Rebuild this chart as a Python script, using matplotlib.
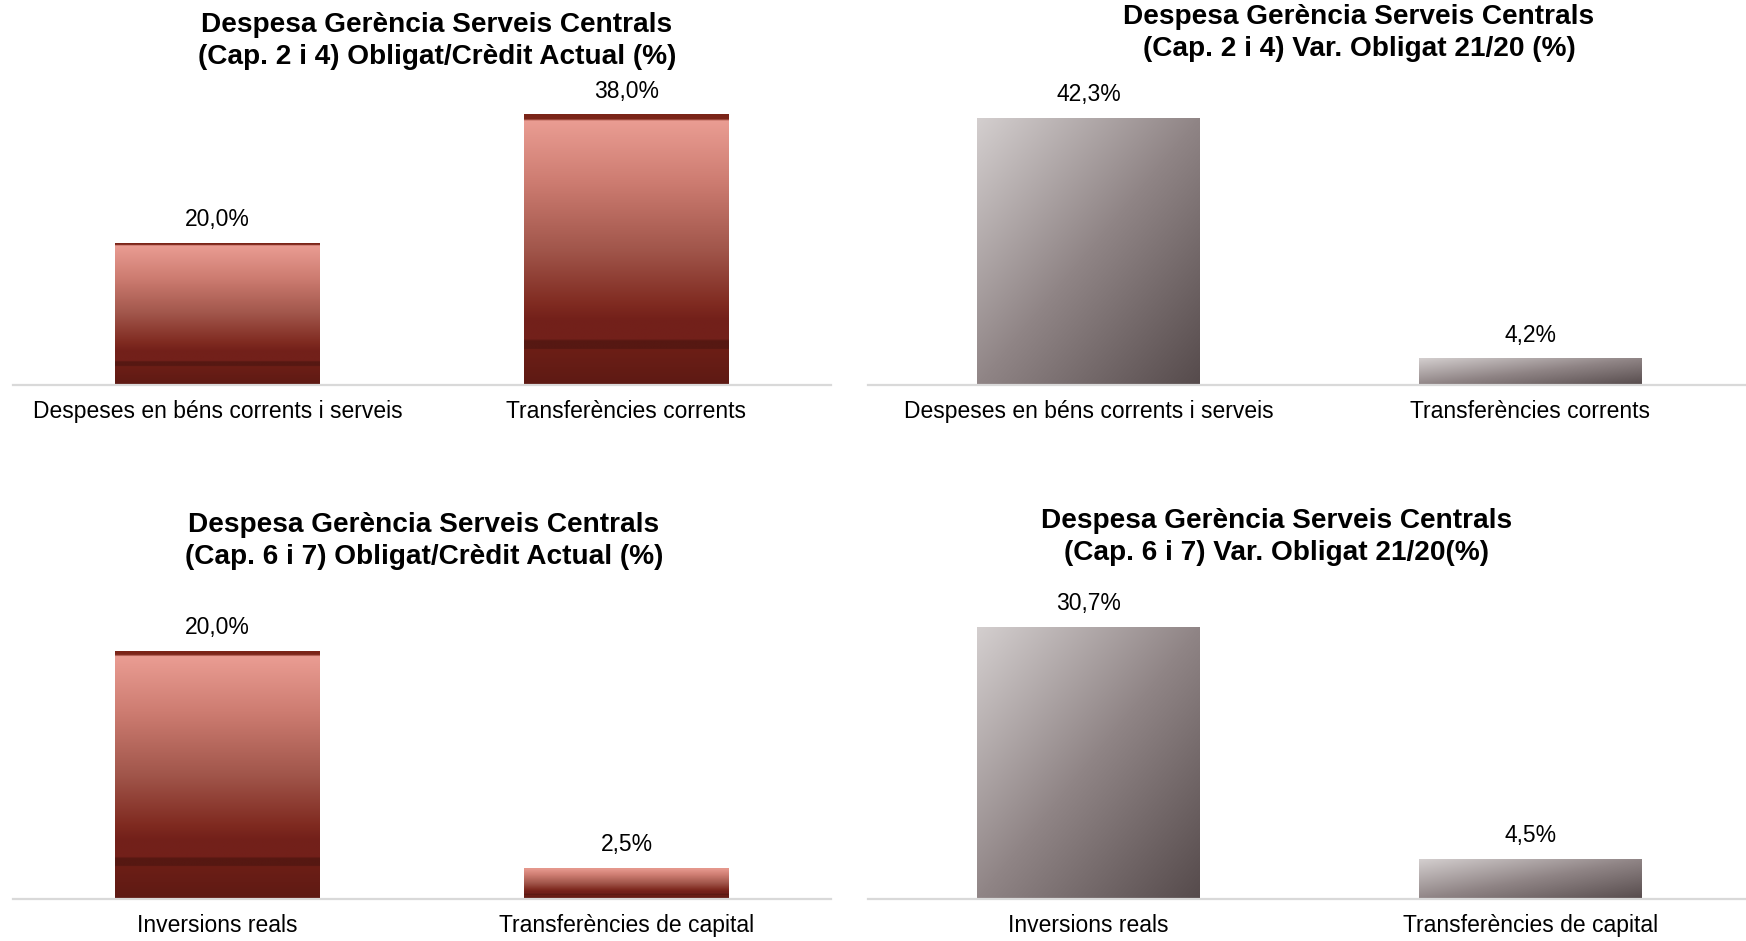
import matplotlib
matplotlib.use('Agg')
import matplotlib.pyplot as plt
import numpy as np
from matplotlib.colors import LinearSegmentedColormap

plt.rcParams['font.family'] = ['Liberation Sans', 'DejaVu Sans']

# data
cats_cap24 = ['Despeses en béns corrents i serveis', 'Transferències corrents']
cats_cap67 = ['Inversions reals', 'Transferències de capital']
oblig_credit_24 = [20.0, 38.0]
var_oblig_24 = [42.3, 4.2]
oblig_credit_67 = [20.0, 2.5]
var_oblig_67 = [30.7, 4.5]

title_tl = 'Despesa Gerència Serveis Centrals\n(Cap. 2 i 4) Obligat/Crèdit Actual (%)'
title_tr = 'Despesa Gerència Serveis Centrals\n(Cap. 2 i 4) Var. Obligat 21/20 (%)'
title_bl = 'Despesa Gerència Serveis Centrals\n(Cap. 6 i 7) Obligat/Crèdit Actual (%)'
title_br = 'Despesa Gerència Serveis Centrals\n(Cap. 6 i 7) Var. Obligat 21/20(%)'

W, H = 1746, 941

# vertical gradient for the red bars (0 = top of bar, 1 = bottom)
red_cmap = LinearSegmentedColormap.from_list('red_bar', [
    (0.0, '#7B2519'), (0.018, '#7B2519'), (0.022, '#EA9D93'),
    (0.25, '#CD7C71'), (0.5, '#A1564B'), (0.7, '#802B21'),
    (0.76, '#73201A'), (0.834, '#72201A'), (0.836, '#561812'),
    (0.868, '#561812'), (0.870, '#6C1E16'), (1.0, '#5E1A14')])

# diagonal gradient for the grey bars
grey_cmap = LinearSegmentedColormap.from_list('grey_bar', [
    (0.0, '#D4CFCF'), (0.5, '#908586'), (1.0, '#564B4C')])


def draw_panel(left, right, baseline, cats, vals, px_per_unit, style, bar_w=0.5):
    ax_h = 300
    ax = fig.add_axes([left / W, 1 - baseline / H, (right - left) / W, ax_h / H])
    bars = ax.bar(range(len(vals)), vals, width=bar_w, color='none', edgecolor='none')
    for b in bars:
        x0, y0 = b.get_x(), b.get_y()
        w, h = b.get_width(), b.get_height()
        if style == 'red':
            img = np.linspace(0, 1, 512).reshape(-1, 1)
            cmap = red_cmap
        else:
            u = np.linspace(0, 1, 256)
            img = (u[None, :] + u[:, None]) / 2
            cmap = grey_cmap
        im = ax.imshow(img, cmap=cmap, extent=[x0, x0 + w, y0, y0 + h], origin='upper',
                       aspect='auto', vmin=0, vmax=1, interpolation='bilinear', zorder=2)
        im.set_clip_path(b)

    for i, v in enumerate(vals):
        ax.annotate(f'{v:.1f}'.replace('.', ',') + '%', (i, v), xytext=(0, 12),
                    textcoords='offset points', ha='center', va='baseline', fontsize=16.5)

    ax.set_xlim(-0.5, len(vals) - 0.5)
    ax.set_ylim(0, ax_h / px_per_unit)
    for s in ['top', 'left', 'right']:
        ax.spines[s].set_visible(False)
    ax.spines['bottom'].set_color('#D9D9D9')
    ax.spines['bottom'].set_linewidth(1.6)
    ax.spines['bottom'].set_zorder(3)
    ax.set_yticks([])
    ax.set_xticks(range(len(cats)))
    ax.set_xticklabels(cats, fontsize=16.5)
    ax.tick_params(axis='x', length=0, pad=11)
    ax.patch.set_alpha(0)
    return ax


fig = plt.figure(figsize=(W / 100, H / 100), dpi=100)

draw_panel(13, 831, 385, cats_cap24, oblig_credit_24, 7.12, 'red')
draw_panel(868, 1751, 385, cats_cap24, var_oblig_24, 6.32, 'grey', 0.505)
draw_panel(13, 831, 899, cats_cap67, oblig_credit_67, 12.4, 'red')
draw_panel(868, 1751, 899, cats_cap67, var_oblig_67, 8.86, 'grey', 0.505)

for x, y, t in [(437, 41, title_tl), (1359, 33, title_tr),
                (424, 541.5, title_bl), (1277, 537.5, title_br)]:
    fig.text(x / W, 1 - y / H, t, ha='center', va='center', fontsize=20.2,
             fontweight='bold', multialignment='center', linespacing=1.3)

fig.savefig('out.png', dpi=100)
